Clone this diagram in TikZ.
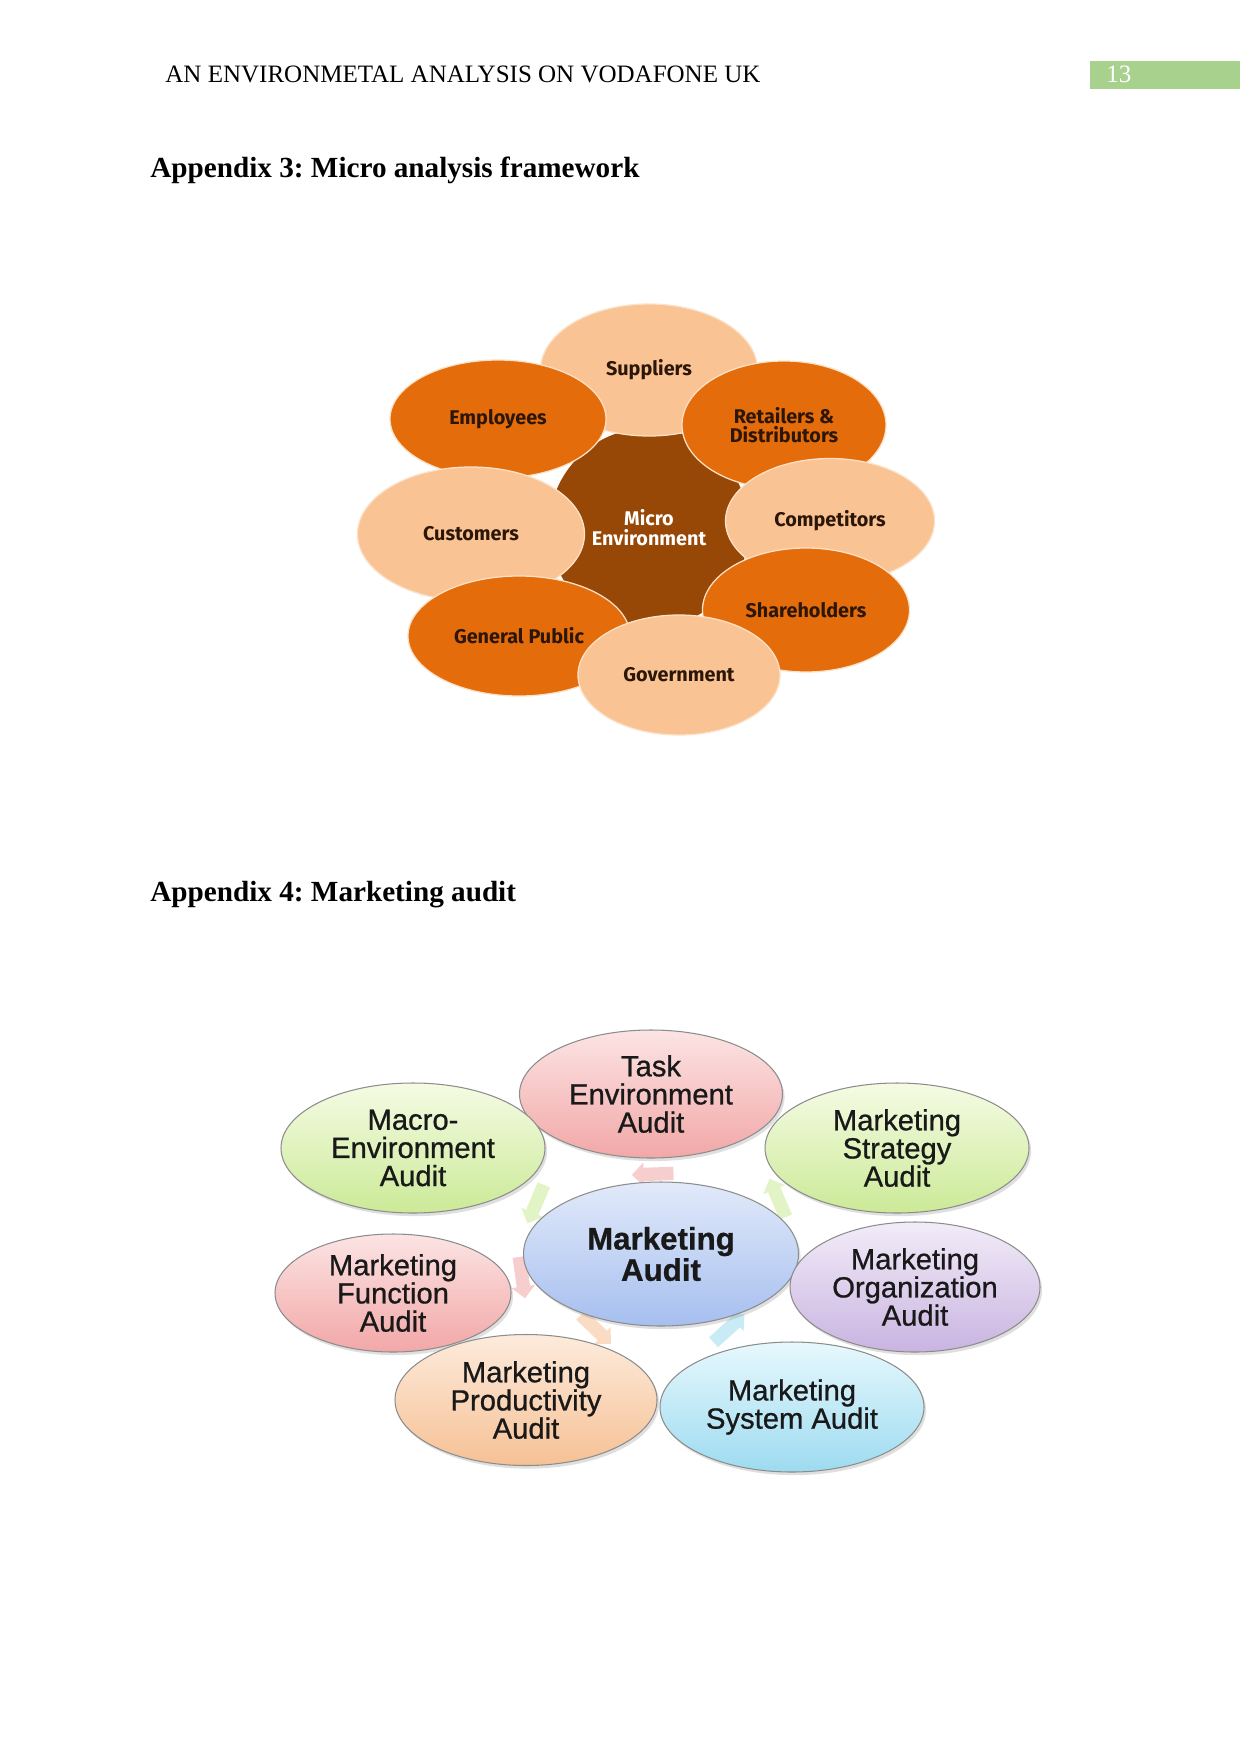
\documentclass[tikz,border=0pt]{standalone}
\usepackage{fontspec}
\setmainfont{Liberation Serif}
\newfontfamily\arialfont[FakeBold=0.8]{Liberation Sans}
\newfontfamily\roundfont{Fira Sans}
\usetikzlibrary{shapes.geometric,shapes.arrows,shadows,calc}
\frenchspacing

\definecolor{hdrgreen}{HTML}{A9D18E}
\definecolor{orangeD}{HTML}{E46C0A}
\definecolor{orangeL}{HTML}{FAC393}
\definecolor{brownC}{HTML}{974806}
\definecolor{microtext}{HTML}{2B1608}
% marketing audit gradients (top / bottom)
\definecolor{pinkT}{HTML}{FCE4E4}   \definecolor{pinkB}{HTML}{F2A7A7}
\definecolor{greenT}{HTML}{F5FBE4}  \definecolor{greenB}{HTML}{CBEA97}
\definecolor{blueT}{HTML}{E2EAFA}   \definecolor{blueB}{HTML}{A6BFEF}
\definecolor{purpT}{HTML}{F2ECF8}   \definecolor{purpB}{HTML}{C9B4E1}
\definecolor{peachT}{HTML}{FDEBDC}  \definecolor{peachB}{HTML}{F6C195}
\definecolor{cyanT}{HTML}{E7F8FD}   \definecolor{cyanB}{HTML}{9DDBF0}

\begin{document}
\begin{tikzpicture}[
    x=0.4797pt, y=-0.4797pt,
    % Styles
    hdr_text/.style={font=\fontsize{12}{14}\selectfont, anchor=base west, inner sep=0pt},
    heading/.style={font=\fontsize{14}{16}\selectfont\bfseries, anchor=base west, inner sep=0pt},
    oval_size/.style 2 args={minimum width=#1*0.4797pt, minimum height=#2*0.4797pt},
    micro_dark/.style={ellipse, inner sep=0pt, align=center, fill=orangeD,
        draw=orangeL!50!white, line width=0.6pt, text=microtext,
        font=\roundfont\bfseries\fontsize{9.5}{9}\selectfont},
    micro_light/.style={micro_dark, fill=orangeL},
    audit_oval/.style 2 args={ellipse, inner sep=0pt, align=center,
        top color=#1, bottom color=#2, draw=black!45, line width=0.5pt,
        drop shadow={opacity=0.25, shadow xshift=1pt, shadow yshift=-1.5pt},
        text=black!90, font=\arialfont\fontsize{14}{13.5}\selectfont},
    flow_arrow/.style={single arrow, inner xsep=0pt, inner ysep=3pt,
        minimum height=20pt, single arrow head extend=2.5pt, draw=none,
        fill=#1, fill opacity=0.55}
]

    % ==========================================
    % 1. PAGE + HEADER
    % ==========================================
    \fill[white] (0,0) rectangle (1241,1754);
    \useasboundingbox (0,0) rectangle (1241,1754);

    \node[hdr_text] (title) at (165,83) {AN ENVIRONMETAL ANALYSIS ON VODAFONE UK};
    \fill[hdrgreen] (1090,61) rectangle (1240,89);
    \node[hdr_text, text=white] (pageno) at (1106,83) {13};

    \node[heading] (app3) at (150,177) {Appendix 3: Micro analysis framework};
    \node[heading] (app4) at (150,901) {Appendix 4: Marketing audit};

    % ==========================================
    % 2. MICRO ENVIRONMENT
    % ==========================================
    % centre disc sits behind the ring of ovals
    \node[circle, fill=brownC, minimum size=200*0.4797pt, inner sep=0pt,
        text=white, align=center, font=\roundfont\bfseries\fontsize{9.5}{9.7}\selectfont]
        (micro) at (649,528) {Micro\\Environment};

    \node[micro_light, oval_size={217}{132}] (suppliers) at (649,370) {Suppliers};
    \node[micro_dark,  oval_size={216}{118}] (employees) at (498,419) {Employees};
    \node[micro_dark,  oval_size={204}{128}] (retailers) at (784,425) {Retailers \&\\Distributors};
    \node[micro_light, oval_size={227}{134}] (customers) at (471,534) {Customers};
    \node[micro_light, oval_size={209}{125}] (competitors) at (830,521) {Competitors};
    \node[micro_dark,  oval_size={222}{120}] (public) at (519,636) {General Public};
    \node[micro_dark,  oval_size={207}{124}] (shareholders) at (806,610) {Shareholders};
    \node[micro_light, oval_size={202}{120}] (government) at (679,675) {Government};

    % ==========================================
    % 3. MARKETING AUDIT
    % ==========================================
    \coordinate (mc) at (661,1254);
    \coordinate (c_task) at (651,1094);
    \coordinate (c_macro) at (413,1148);
    \coordinate (c_strat) at (897,1148);
    \coordinate (c_func) at (393,1293);
    \coordinate (c_orgn) at (915,1287);
    \coordinate (c_prod) at (526,1400);
    \coordinate (c_sys) at (792,1407);

    % faded cycle arrows (drawn first, behind the ovals)
    \node[flow_arrow=pinkB,  rotate=182] (a_task)  at ($(mc)!0.5!(c_task)$) {};
    \node[flow_arrow=greenB, rotate=247] (a_macro) at ($(mc)!0.5!(c_macro)$) {};
    \node[flow_arrow=greenB, rotate=113] (a_strat) at ($(mc)!0.5!(c_strat)$) {};
    \node[flow_arrow=pinkB,  rotate=278] (a_func)  at ($(mc)!0.52!(c_func)$) {};
    \node[flow_arrow=peachB, rotate=316] (a_prod)  at ($(mc)!0.5!(c_prod)$) {};
    \node[flow_arrow=cyanB,  rotate=42]  (a_sys)   at ($(mc)!0.5!(c_sys)$) {};

    \node[audit_oval={blueT}{blueB}, oval_size={275}{144},
        font=\arialfont\bfseries\fontsize{15}{15}\selectfont]
        (center) at (mc) {Marketing\\Audit};

    \node[audit_oval={pinkT}{pinkB},   oval_size={263}{128}] (task)   at (c_task)  {Task\\Environment\\Audit};
    \node[audit_oval={greenT}{greenB}, oval_size={264}{130}] (macro)  at (c_macro) {Macro-\\Environment\\Audit};
    \node[audit_oval={greenT}{greenB}, oval_size={264}{130}] (strat)  at (c_strat) {Marketing\\Strategy\\Audit};
    \node[audit_oval={pinkT}{pinkB},   oval_size={236}{118}] (func)   at (c_func)  {Marketing\\Function\\Audit};
    \node[audit_oval={purpT}{purpB},   oval_size={250}{130}] (orgn)   at (c_orgn)  {Marketing\\Organization\\Audit};
    \node[audit_oval={peachT}{peachB}, oval_size={262}{131}] (prod)   at (c_prod)  {Marketing\\Productivity\\Audit};
    \node[audit_oval={cyanT}{cyanB},   oval_size={264}{130}] (sys)    at (c_sys)   {Marketing\\System Audit};

\end{tikzpicture}
\end{document}
